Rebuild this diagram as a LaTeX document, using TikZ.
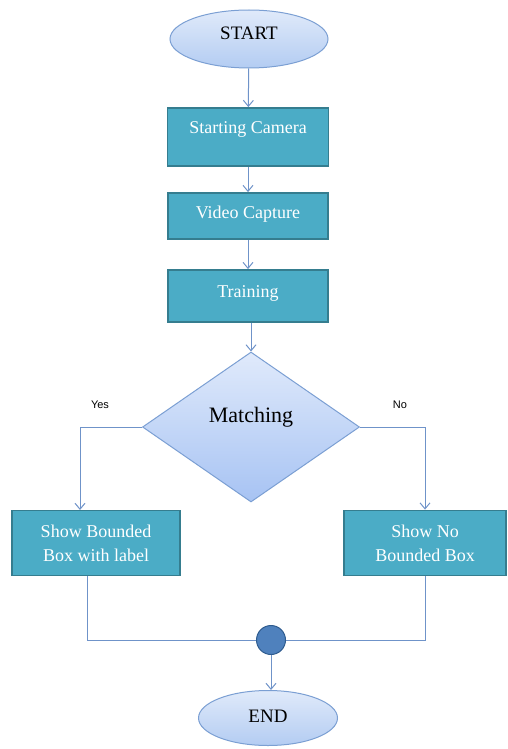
\documentclass[tikz,border=0pt]{standalone}
\usepackage{fontspec}
\setmainfont{Liberation Serif}
\newfontfamily\labelfont{Liberation Sans}
\usetikzlibrary{shapes.geometric,arrows.meta}
\definecolor{boxfill}{HTML}{4BACC6}
\definecolor{boxborder}{HTML}{357D8F}
\definecolor{linec}{HTML}{6F93C9}
\definecolor{elltop}{HTML}{E0EAFA}
\definecolor{ellbot}{HTML}{B3CCF2}
\definecolor{ellborder}{HTML}{7B9FD3}
\definecolor{diatop}{HTML}{E0EAFB}
\definecolor{diabot}{HTML}{A7C3F3}
\definecolor{joinfill}{HTML}{4F81BD}
\definecolor{joinborder}{HTML}{2F5C8F}
\tikzset{
  procbox/.style={rectangle, draw=boxborder, line width=1.8pt, fill=boxfill,
    text=white, inner sep=0pt, align=center,
    font=\fontsize{18}{24}\selectfont},
  terminal/.style={ellipse, draw=ellborder, line width=1pt, top color=elltop,
    bottom color=ellbot, inner sep=0pt, font=\fontsize{19}{22}\selectfont},
  decision/.style={diamond, draw=ellborder, line width=1pt, top color=diatop,
    bottom color=diabot, inner sep=0pt, minimum width=217pt, minimum height=150pt,
    font=\fontsize{22}{26}\selectfont},
  joinpt/.style={circle, draw=joinborder, line width=1pt, fill=joinfill,
    minimum size=29pt, inner sep=0pt},
  conn/.style={draw=linec, line width=1pt},
  arr/.style={conn, -{Straight Barb[length=6pt,width=10pt]}},
  lift/.style={text height=13pt, text depth=#1},
  branchlbl/.style={font=\labelfont\fontsize{11}{13}\selectfont, text=black}
}
\begin{document}
\begin{tikzpicture}[x=1pt,y=-1pt]
\useasboundingbox (0,0) rectangle (507,749);
\node[terminal, lift=11pt, minimum width=158pt, minimum height=58pt] (start) at (249,39) {START};
\node[procbox, lift=21pt, minimum width=161pt, minimum height=58pt] (cam) at (248,137) {Starting Camera};
\node[procbox, lift=9pt, minimum width=160pt, minimum height=46pt] (vid) at (248,216) {Video Capture};
\node[procbox, lift=11pt, minimum width=160pt, minimum height=52pt] (train) at (248,296) {Training};
\node[decision, text height=15pt, text depth=24pt] (match) at (251,427) {Matching};
\node[procbox, minimum width=168pt, minimum height=65pt] (lbox) at (96,543) {Show Bounded\\Box with label};
\node[procbox, minimum width=162pt, minimum height=65pt] (rbox) at (425,543) {Show No\\Bounded Box};
\node[joinpt] (join) at (271,640) {};
\node[terminal, lift=5pt, minimum width=139pt, minimum height=55pt] (end) at (268,718) {END};
\node[branchlbl] (yes) at (100,405) {Yes};
\node[branchlbl] (no) at (400,405) {No};
\coordinate (lin) at (80,510);
\coordinate (lout) at (87,576);
\draw[arr] (start) -- (cam);
\draw[arr] (cam) -- (vid);
\draw[arr] (vid) -- (train);
\draw[arr] (train.south -| match.north) -- (match.north);
\draw[arr] (match.west) -| (lin);
\draw[arr] (match.east) -| (rbox.north);
\draw[conn] (lout) |- (join.west);
\draw[conn] (rbox.south) |- (join.east);
\draw[arr] (join.south) -- (join.south |- end.north);
\end{tikzpicture}
\end{document}
